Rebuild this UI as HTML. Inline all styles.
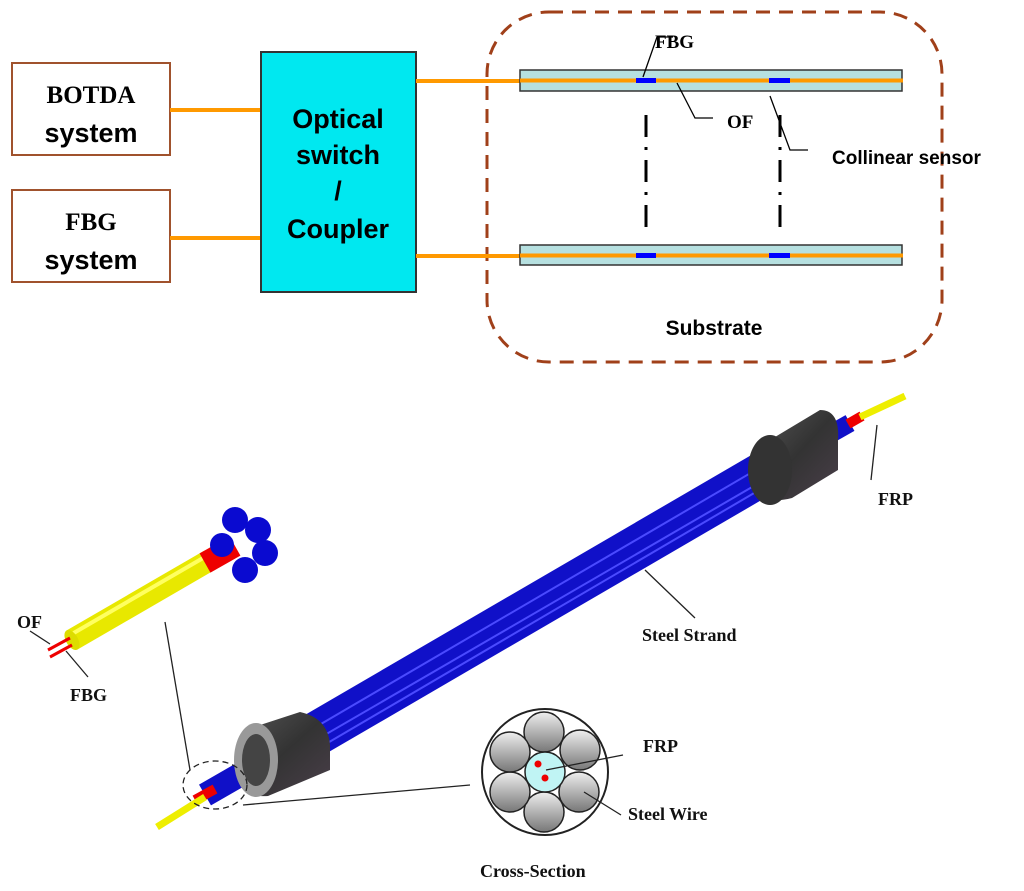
<!DOCTYPE html>
<html><head><style>body{margin:0;background:#fff}svg{display:block}</style></head><body>
<svg width="1024" height="891" viewBox="0 0 1024 891" xmlns="http://www.w3.org/2000/svg">
<defs>
<linearGradient id="wg" x1="0" y1="0" x2="0" y2="1"><stop offset="0" stop-color="#eee"/><stop offset="1" stop-color="#777"/></linearGradient>
<linearGradient id="cyl" x1="0" y1="0" x2="1" y2="1"><stop offset="0" stop-color="#555"/><stop offset="0.5" stop-color="#333"/><stop offset="1" stop-color="#4a3f4a"/></linearGradient>
</defs>
<g font-family="Liberation Sans, sans-serif" font-weight="bold">
<!-- left boxes -->
<rect x="12" y="63" width="158" height="92" fill="#fff" stroke="#a0522d" stroke-width="2"/>
<text x="91" y="103" text-anchor="middle" font-family="Liberation Serif, serif" font-size="25">BOTDA</text>
<text x="91" y="142" text-anchor="middle" font-size="27">system</text>
<rect x="12" y="190" width="158" height="92" fill="#fff" stroke="#a0522d" stroke-width="2"/>
<text x="91" y="230" text-anchor="middle" font-family="Liberation Serif, serif" font-size="25">FBG</text>
<text x="91" y="269" text-anchor="middle" font-size="27">system</text>
<line x1="170" y1="110" x2="261" y2="110" stroke="#f90" stroke-width="4"/>
<line x1="170" y1="238" x2="261" y2="238" stroke="#f90" stroke-width="4"/>
<rect x="261" y="52" width="155" height="240" fill="#00e8f0" stroke="#333" stroke-width="2"/>
<text x="338" y="128" text-anchor="middle" font-size="27">Optical</text>
<text x="338" y="164" text-anchor="middle" font-size="27">switch</text>
<text x="338" y="200" text-anchor="middle" font-size="27">/</text>
<text x="338" y="238" text-anchor="middle" font-size="27">Coupler</text>
<!-- dashed substrate -->
<rect x="487" y="12" width="455" height="350" rx="62" fill="none" stroke="#a0401a" stroke-width="3" stroke-dasharray="14,9"/>
<line x1="416" y1="81" x2="520" y2="81" stroke="#f90" stroke-width="4"/>
<line x1="416" y1="256" x2="520" y2="256" stroke="#f90" stroke-width="4"/>
<rect x="520" y="70" width="382" height="21" fill="#b6e0e0" stroke="#333" stroke-width="1.5"/>
<line x1="520" y1="80.5" x2="903" y2="80.5" stroke="#f90" stroke-width="4"/>
<rect x="636" y="78" width="20" height="5" fill="#00f"/><rect x="769" y="78" width="21" height="5" fill="#00f"/>
<rect x="520" y="245" width="382" height="20" fill="#b6e0e0" stroke="#333" stroke-width="1.5"/>
<line x1="520" y1="255.5" x2="903" y2="255.5" stroke="#f90" stroke-width="4"/>
<rect x="636" y="253" width="20" height="5" fill="#00f"/><rect x="769" y="253" width="21" height="5" fill="#00f"/>
<g stroke="#000" stroke-width="3" stroke-dasharray="22,10,3,10"><line x1="646" y1="115" x2="646" y2="228"/><line x1="780" y1="115" x2="780" y2="228"/></g>
<g fill="none" stroke="#000" stroke-width="1.3">
<polyline points="643,77 657,37 673,37"/><polyline points="677,83 695,118 713,118"/><polyline points="770,96 790,150 808,150"/></g>
<text x="655" y="48" font-family="Liberation Serif, serif" font-size="19">FBG</text>
<text x="727" y="128" font-family="Liberation Serif, serif" font-size="19">OF</text>
<text x="832" y="164" font-size="19" font-weight="normal" style="font-weight:600">Collinear sensor</text>
<text x="714" y="335" text-anchor="middle" font-size="21">Substrate</text>
</g>
<!-- strand -->
<line x1="285" y1="752" x2="790" y2="458" stroke="#1010c8" stroke-width="44"/>
<g stroke="#4a4aff" stroke-width="2"><line x1="285" y1="745" x2="790" y2="450"/><line x1="285" y1="758" x2="790" y2="465"/><line x1="290" y1="765" x2="790" y2="472"/></g>
<line x1="820" y1="440" x2="850" y2="423" stroke="#1010c8" stroke-width="18"/>
<line x1="848" y1="424" x2="862" y2="416" stroke="#e00" stroke-width="10"/>
<line x1="860" y1="417" x2="905" y2="396" stroke="#ee0" stroke-width="7"/>
<!-- right cylinder -->
<path d="M770 440 L820 410 Q840 410 838 440 L838 470 L792 498 Q765 505 755 490 Z" fill="url(#cyl)"/>
<ellipse cx="770" cy="470" rx="22" ry="35" fill="#333"/>
<line x1="205" y1="795" x2="245" y2="772" stroke="#1010c8" stroke-width="24"/>
<line x1="195" y1="800" x2="215" y2="789" stroke="#e00" stroke-width="10"/>
<line x1="157" y1="827" x2="205" y2="797" stroke="#ee0" stroke-width="7"/>
<!-- left cylinder -->
<path d="M245 730 L300 712 Q328 718 330 745 L330 770 L268 796 Q240 798 235 770 Z" fill="url(#cyl)"/>
<ellipse cx="256" cy="760" rx="22" ry="37" fill="#999"/><ellipse cx="256" cy="760" rx="14" ry="26" fill="#444"/>
<!-- exploded left piece -->
<line x1="72" y1="640" x2="210" y2="560" stroke="#e8e800" stroke-width="22"/>
<line x1="72" y1="634" x2="210" y2="554" stroke="#ffff60" stroke-width="4"/>
<ellipse cx="72" cy="640" rx="6" ry="11" fill="#dd0" transform="rotate(-30 72 640)"/>
<line x1="205" y1="563" x2="235" y2="546" stroke="#e00" stroke-width="22"/>
<g fill="#0a0ad0"><circle cx="235" cy="520" r="13"/><circle cx="258" cy="530" r="13"/><circle cx="265" cy="553" r="13"/><circle cx="245" cy="570" r="13"/><circle cx="222" cy="545" r="12"/></g>
<g stroke="#e00" stroke-width="3"><line x1="48" y1="650" x2="70" y2="638"/><line x1="50" y1="657" x2="72" y2="645"/></g>
<g stroke="#222" stroke-width="1.3" fill="none">
<line x1="30" y1="631" x2="50" y2="644"/><line x1="66" y1="651" x2="88" y2="677"/>
<line x1="165" y1="622" x2="190" y2="770"/>
<ellipse cx="215" cy="785" rx="32" ry="24" stroke-dasharray="6,4"/>
<line x1="243" y1="805" x2="470" y2="785"/>
<line x1="877" y1="425" x2="871" y2="480"/>
<line x1="645" y1="570" x2="695" y2="618"/>
</g>
<!-- cross section -->
<circle cx="545" cy="772" r="63" fill="#fff" stroke="#222" stroke-width="2"/>
<g fill="url(#wg)" stroke="#222" stroke-width="1.5">
<circle cx="544" cy="732" r="20"/><circle cx="580" cy="750" r="20"/><circle cx="579" cy="792" r="20"/><circle cx="544" cy="812" r="20"/><circle cx="510" cy="792" r="20"/><circle cx="510" cy="752" r="20"/></g>
<circle cx="545" cy="772" r="20" fill="#c0f4f4" stroke="#222" stroke-width="1.5"/>
<circle cx="538" cy="764" r="3.5" fill="#e00"/><circle cx="545" cy="778" r="3.5" fill="#e00"/>
<g stroke="#222" stroke-width="1.3"><line x1="546" y1="770" x2="623" y2="755"/><line x1="584" y1="792" x2="621" y2="815"/></g>
<g font-family="Liberation Serif, serif" font-weight="bold" font-size="18" fill="#111">
<text x="17" y="628">OF</text><text x="70" y="701">FBG</text>
<text x="878" y="505">FRP</text><text x="642" y="641">Steel Strand</text>
<text x="643" y="752">FRP</text><text x="628" y="820">Steel Wire</text>
<text x="480" y="877">Cross-Section</text>
</g>
</svg>
</body></html>
